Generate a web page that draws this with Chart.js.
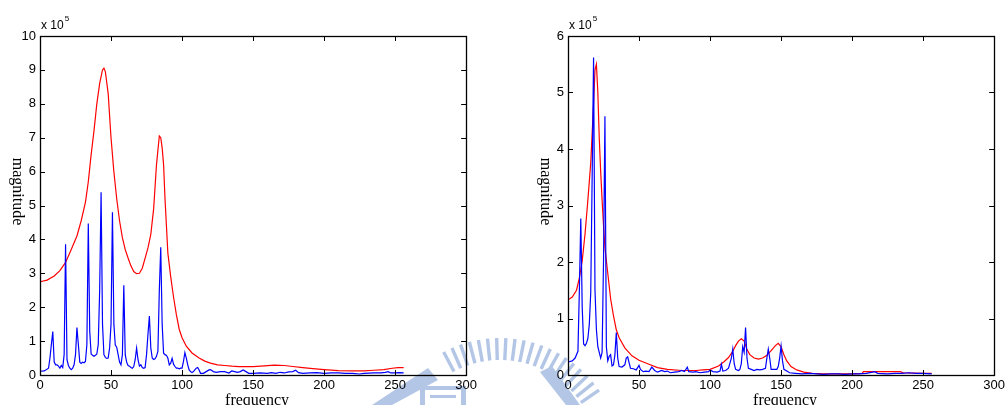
<!DOCTYPE html>
<html>
<head>
<meta charset="utf-8">
<script src="https://cdn.jsdelivr.net/npm/chart.js@4.4.1/dist/chart.umd.min.js"></script>
<style>
  html, body { margin: 0; padding: 0; background: #fff; }
  #page { position: relative; width: 1008px; height: 405px; overflow: hidden; }
  #page canvas { position: absolute; top: 0; }
  #mark { left: 0; z-index: 0; }
  #leftChart { left: 0; z-index: 1; }
  #rightChart { left: 500px; z-index: 1; }
</style>
</head>
<body>
<div id="page">
  <canvas id="mark" width="1008" height="405"></canvas>
  <canvas id="leftChart" width="480" height="405"></canvas>
  <canvas id="rightChart" width="508" height="405"></canvas>
</div>
<script>
// magnitudes are in units of 1e5 (shown as "x 10^5" above each axis)
const xTicks = [0, 50, 100, 150, 200, 250, 300];
const leftYTicks = [0, 1, 2, 3, 4, 5, 6, 7, 8, 9, 10];
const rightYTicks = [0, 1, 2, 3, 4, 5, 6];

// left: spectrum (blue)
const leftSpecFreq = [0, 3, 6, 7, 8, 9, 10, 11, 12, 13, 14, 15, 16, 17, 18, 19, 20, 21, 22, 23, 24, 25, 26, 27, 28, 29, 30, 31, 32, 33, 34, 35, 36, 37, 38, 39, 40, 41, 42, 43, 44, 45, 46, 47, 48, 49, 50, 51, 52, 53, 54, 55, 56, 57, 58, 59, 60, 61, 62, 63, 64, 65, 66, 67, 68, 69, 70, 71, 72, 73, 74, 75, 76, 77, 78, 79, 80, 81, 82, 83, 84, 85, 86, 87, 88, 89, 90, 91, 92, 93, 94, 95, 96, 97, 98, 99, 100, 101, 102, 103, 104, 105, 106, 107, 108, 109, 110, 111, 112, 113, 115, 117, 119, 120, 122, 124, 127, 130, 133, 135, 137, 139, 141, 143, 145, 147, 150, 155, 160, 163, 166, 169, 172, 175, 178, 180, 182, 185, 190, 195, 200, 205, 210, 215, 220, 225, 228, 235, 240, 243, 245, 247, 250, 253, 256];
const leftSpecMag = [0.11, 0.12, 0.2, 0.5, 0.9, 1.28, 0.38, 0.3, 0.3, 0.26, 0.2, 0.28, 0.22, 0.6, 3.86, 0.45, 0.28, 0.2, 0.16, 0.2, 0.3, 0.6, 1.4, 0.9, 0.38, 0.34, 0.38, 0.36, 0.4, 0.9, 4.47, 1.3, 0.62, 0.58, 0.55, 0.58, 0.62, 0.9, 2.5, 5.39, 1.5, 0.6, 0.52, 0.49, 0.5, 0.8, 1.5, 4.8, 1.5, 0.88, 0.82, 0.6, 0.38, 0.3, 0.6, 2.65, 0.6, 0.38, 0.28, 0.26, 0.22, 0.2, 0.25, 0.45, 0.79, 0.45, 0.26, 0.3, 0.22, 0.2, 0.22, 0.6, 1.2, 1.74, 0.8, 0.5, 0.46, 0.48, 0.55, 0.7, 2.5, 3.77, 1.5, 0.64, 0.6, 0.58, 0.5, 0.3, 0.35, 0.49, 0.32, 0.25, 0.2, 0.2, 0.18, 0.2, 0.2, 0.4, 0.66, 0.5, 0.3, 0.15, 0.1, 0.07, 0.1, 0.15, 0.2, 0.22, 0.15, 0.05, 0.05, 0.1, 0.15, 0.16, 0.1, 0.08, 0.1, 0.1, 0.06, 0.12, 0.1, 0.08, 0.1, 0.15, 0.1, 0.05, 0.05, 0.06, 0.05, 0.07, 0.05, 0.08, 0.06, 0.09, 0.1, 0.14, 0.07, 0.05, 0.06, 0.07, 0.05, 0.06, 0.06, 0.05, 0.05, 0.03, 0.05, 0.06, 0.06, 0.08, 0.1, 0.06, 0.06, 0.07, 0.06];

// left: envelope (red)
const leftEnvFreq = [0, 5, 10, 14, 18, 22, 26, 29, 32, 34, 36, 38, 40, 42, 44, 45, 46, 48, 50, 52, 54, 56, 58, 60, 62, 64, 66, 68, 70, 72, 74, 76, 78, 80, 82, 84, 85, 86, 87, 88, 89, 90, 92, 94, 96, 98, 100, 103, 107, 112, 116, 120, 125, 130, 135, 140, 150, 158, 165, 172, 178, 185, 192, 200, 210, 220, 228, 235, 242, 248, 252, 256];
const leftEnvMag = [2.75, 2.8, 2.92, 3.08, 3.32, 3.7, 4.1, 4.55, 5.1, 5.7, 6.5, 7.2, 8.0, 8.6, 9.0, 9.05, 8.95, 8.3, 7.0, 6.0, 5.2, 4.55, 4.05, 3.7, 3.45, 3.22, 3.05, 2.99, 3.0, 3.15, 3.45, 3.75, 4.15, 4.9, 6.2, 7.05, 7.0, 6.7, 6.2, 5.2, 4.4, 3.6, 2.9, 2.3, 1.78, 1.35, 1.1, 0.85, 0.65, 0.5, 0.41, 0.35, 0.3, 0.28, 0.26, 0.25, 0.25, 0.27, 0.29, 0.28, 0.25, 0.22, 0.19, 0.16, 0.13, 0.12, 0.12, 0.14, 0.16, 0.2, 0.22, 0.22];

// right: spectrum (blue)
const rightSpecFreq = [0, 3, 5, 7, 8, 9, 10, 11, 12, 13, 14, 15, 16, 17, 18, 19, 20, 21, 22, 23, 24, 25, 26, 27, 28, 29, 30, 31, 32, 33, 34, 35, 36, 38, 40, 41, 42, 43, 44, 46, 48, 50, 51, 53, 55, 57, 59, 61, 63, 66, 68, 70, 72, 75, 78, 80, 82, 84, 85, 88, 90, 93, 96, 99, 100, 102, 105, 107, 108, 109, 111, 113, 115, 116, 117, 118, 120, 121, 122, 123, 124, 125, 126, 127, 129, 131, 133, 135, 137, 139, 140, 141, 142, 143, 145, 147, 148, 149, 150, 151, 152, 154, 156, 160, 165, 170, 175, 180, 185, 190, 195, 200, 205, 210, 216, 218, 225, 230, 235, 240, 245, 250, 256];
const rightSpecMag = [0.23, 0.25, 0.3, 0.42, 1.5, 2.77, 1.2, 0.55, 0.52, 0.56, 0.65, 0.9, 1.45, 3.5, 5.62, 1.5, 0.8, 0.5, 0.4, 0.3, 0.4, 2.0, 4.58, 0.5, 0.25, 0.33, 0.36, 0.16, 0.18, 0.35, 0.75, 0.3, 0.15, 0.14, 0.18, 0.3, 0.32, 0.22, 0.12, 0.11, 0.09, 0.17, 0.1, 0.06, 0.07, 0.06, 0.14, 0.08, 0.05, 0.08, 0.06, 0.07, 0.04, 0.05, 0.06, 0.08, 0.06, 0.14, 0.06, 0.05, 0.06, 0.04, 0.05, 0.06, 0.09, 0.06, 0.05, 0.07, 0.19, 0.07, 0.08, 0.12, 0.3, 0.46, 0.2, 0.1, 0.08, 0.1, 0.2, 0.5, 0.4, 0.84, 0.3, 0.12, 0.1, 0.08, 0.1, 0.09, 0.1, 0.12, 0.3, 0.46, 0.3, 0.1, 0.1, 0.1, 0.15, 0.3, 0.51, 0.25, 0.1, 0.07, 0.04, 0.03, 0.02, 0.03, 0.02, 0.01, 0.02, 0.02, 0.01, 0.02, 0.02, 0.03, 0.06, 0.03, 0.02, 0.03, 0.03, 0.04, 0.03, 0.03, 0.02];

// right: envelope (red)
const rightEnvFreq = [0, 3, 6, 8, 10, 12, 14, 16, 18, 19, 20, 21, 22, 23, 24, 25, 26, 28, 30, 32, 34, 36, 40, 45, 50, 57, 63, 70, 80, 90, 95, 100, 106, 110, 113, 116, 118, 120, 122, 124, 126, 128, 131, 134, 137, 140, 143, 146, 148, 150, 152, 154, 157, 161, 166, 172, 180, 190, 200, 207, 208, 220, 234, 236, 250, 256];
const rightEnvMag = [1.33, 1.38, 1.5, 1.72, 2.02, 2.5, 3.1, 3.75, 4.8, 5.4, 5.5, 5.0, 4.2, 3.6, 3.1, 2.65, 2.25, 1.8, 1.35, 1.05, 0.8, 0.66, 0.48, 0.34, 0.26, 0.19, 0.13, 0.1, 0.08, 0.08, 0.09, 0.1, 0.16, 0.24, 0.31, 0.42, 0.52, 0.6, 0.64, 0.6, 0.45, 0.36, 0.3, 0.28, 0.3, 0.35, 0.43, 0.52, 0.56, 0.5, 0.36, 0.25, 0.15, 0.09, 0.05, 0.03, 0.02, 0.02, 0.02, 0.03, 0.06, 0.06, 0.06, 0.04, 0.03, 0.03];

const BLUE = "#0000ff";
const RED = "#ff0000";
const TICK_FONT = "Liberation Sans, Arial, sans-serif";
const LABEL_FONT = "Liberation Serif, Times New Roman, serif";

function toPoints(xs, ys) {
  return xs.map((x, i) => ({ x: x, y: ys[i] }));
}

// box around the axes, inward tick marks on all four sides, axis labels and the exponent note
const matlabAxes = {
  id: "matlabAxes",
  afterDraw(chart) {
    const { ctx, chartArea: a, scales } = chart;
    const len = 5;
    ctx.save();
    ctx.strokeStyle = "#000";
    ctx.lineWidth = 1;
    ctx.beginPath();
    scales.x.ticks.forEach((t) => {
      const px = Math.round(scales.x.getPixelForValue(t.value)) + 0.5;
      ctx.moveTo(px, a.bottom); ctx.lineTo(px, a.bottom - len);
      ctx.moveTo(px, a.top); ctx.lineTo(px, a.top + len);
    });
    scales.y.ticks.forEach((t) => {
      const py = Math.round(scales.y.getPixelForValue(t.value)) + 0.5;
      ctx.moveTo(a.left, py); ctx.lineTo(a.left + len, py);
      ctx.moveTo(a.right, py); ctx.lineTo(a.right - len, py);
    });
    ctx.stroke();
    ctx.lineWidth = 1.3;
    ctx.strokeRect(Math.round(a.left) + 0.5, Math.round(a.top) + 0.5,
      Math.round(a.right - a.left), Math.round(a.bottom - a.top));

    // exponent above the y axis
    ctx.fillStyle = "#000";
    ctx.textBaseline = "alphabetic";
    ctx.textAlign = "left";
    ctx.font = "12px " + TICK_FONT;
    ctx.fillText("x 10", a.left + 1, a.top - 7);
    const w = ctx.measureText("x 10").width;
    ctx.font = "8px " + TICK_FONT;
    ctx.fillText("5", a.left + 2 + w, a.top - 15);

    // axis labels
    ctx.font = "16px " + LABEL_FONT;
    ctx.textAlign = "center";
    ctx.fillText("frequency", (a.left + a.right) / 2 + 4, 405);
    ctx.save();
    ctx.translate(a.left - 23, (a.top + a.bottom) / 2 - 14);
    ctx.rotate(Math.PI / 2);
    ctx.textBaseline = "middle";
    ctx.fillText("magnitude", 0, 0);
    ctx.restore();
    ctx.restore();
  },
};

function makeChart(id, spec, env, yMax, yTicks, rightPad) {
  return new Chart(document.getElementById(id), {
    type: "line",
    data: {
      datasets: [
        { data: spec, borderColor: BLUE, borderWidth: 1.2, pointRadius: 0, tension: 0 },
        { data: env, borderColor: RED, borderWidth: 1.2, pointRadius: 0, tension: 0 },
      ],
    },
    options: {
      responsive: false,
      animation: false,
      devicePixelRatio: 1,
      events: [],
      layout: { padding: { top: 36, right: rightPad, left: 0, bottom: 0 } },
      plugins: { legend: { display: false }, tooltip: { enabled: false } },
      scales: {
        x: {
          type: "linear",
          min: 0,
          max: 300,
          afterBuildTicks: (s) => { s.ticks = xTicks.map((v) => ({ value: v })); },
          afterFit: (s) => { s.height = 30; },
          grid: { display: false, drawTicks: false },
          border: { display: false },
          ticks: { color: "#000", padding: 3, maxRotation: 0, font: { family: TICK_FONT, size: 13 } },
        },
        y: {
          min: 0,
          max: yMax,
          afterBuildTicks: (s) => { s.ticks = yTicks.map((v) => ({ value: v })); },
          afterFit: (s) => { s.width = yMax === 10 ? 40 : 68; },
          grid: { display: false, drawTicks: false },
          border: { display: false },
          ticks: { color: "#000", padding: 4, font: { family: TICK_FONT, size: 13 } },
        },
      },
    },
    plugins: [matlabAxes],
  });
}

makeChart("leftChart", toPoints(leftSpecFreq, leftSpecMag), toPoints(leftEnvFreq, leftEnvMag), 10, leftYTicks, 12);
makeChart("rightChart", toPoints(rightSpecFreq, rightSpecMag), toPoints(rightEnvFreq, rightEnvMag), 6, rightYTicks, 11);

// faint university seal printed behind the page
(function drawSeal() {
  const ctx = document.getElementById("mark").getContext("2d");
  const cx = 500, cy = 458;
  ctx.fillStyle = "#b3c6e6";
  // rays along the upper rim
  for (let deg = -118; deg <= -32; deg += 4.4) {
    ctx.save();
    ctx.translate(cx, cy);
    ctx.rotate((deg * Math.PI) / 180);
    ctx.fillRect(98, -1.7, 22, 3.4);
    ctx.restore();
  }
  // diagonal band on the lower left
  ctx.beginPath();
  ctx.moveTo(372, 405);
  ctx.lineTo(428, 368);
  ctx.lineTo(438, 380);
  ctx.lineTo(392, 405);
  ctx.closePath();
  ctx.fill();
  // diagonal band on the lower right
  ctx.beginPath();
  ctx.moveTo(540, 372);
  ctx.lineTo(552, 366);
  ctx.lineTo(580, 405);
  ctx.lineTo(566, 405);
  ctx.closePath();
  ctx.fill();
  // gate shape in the middle
  ctx.fillRect(420, 386, 46, 4);
  ctx.fillRect(420, 386, 5, 19);
  ctx.fillRect(461, 386, 5, 19);
  ctx.fillRect(430, 395, 26, 3);
})();
</script>
</body>
</html>
